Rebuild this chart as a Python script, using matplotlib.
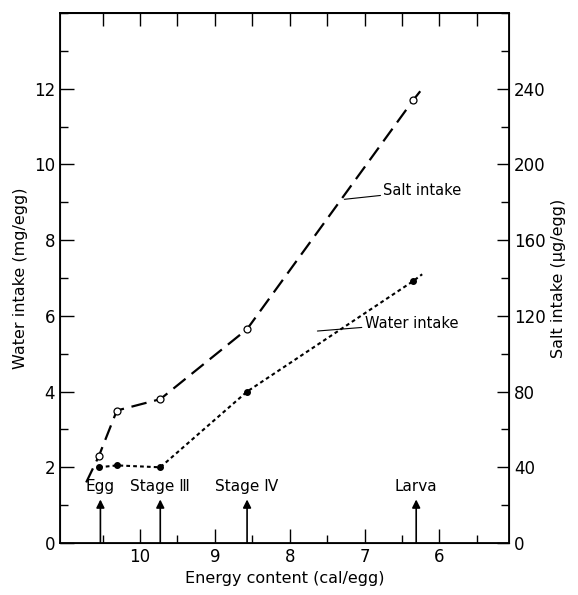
import numpy as np
import matplotlib.pyplot as plt
from matplotlib.ticker import MultipleLocator, FixedLocator

# data
energy = [10.55, 10.31, 9.73, 8.57, 6.35]
water = [2.0, 2.05, 2.0, 4.0, 6.92]          # mg/egg
salt = [46, 70, 76, 113, 234]                # ug/egg
# lines extended beyond the measured points
salt_line_x = [10.72, 10.55, 10.31, 9.73, 8.57, 6.35, 6.25]
salt_line_y = [32, 46, 70, 76, 113, 234, 239]
water_line_x = [10.55, 10.31, 9.73, 8.57, 6.35, 6.23]
water_line_y = [2.0, 2.05, 2.0, 4.0, 6.92, 7.1]

stages = ['Egg', 'Stage Ⅲ', 'Stage Ⅳ', 'Larva']
stage_x = [10.53, 9.73, 8.57, 6.31]

fig = plt.figure(figsize=(5.78, 5.95), dpi=100)
ax = fig.add_axes([0.1038, 0.0874, 0.7768, 0.8906])
ax2 = ax.twinx()

ax.set_xlim(11.07, 5.07)
ax.set_ylim(0, 14)
ax2.set_ylim(0, 280)

ax2.plot(salt_line_x, salt_line_y, color='black', lw=1.6, dashes=(7, 3.5))
ax2.plot(energy, salt, 'o', mfc='white', mec='black', ms=5, mew=0.9)
ax.plot(water_line_x, water_line_y, color='black', lw=1.5, dashes=(1.8, 1.5))
ax.plot(energy, water, 'o', color='black', ms=4)

# stage arrows
for name, x in zip(stages, stage_x):
    ax.annotate('', xy=(x, 1.15), xytext=(x, 0),
                arrowprops=dict(arrowstyle='-|>', color='black', lw=1.2,
                                mutation_scale=12, shrinkA=0, shrinkB=0))
    ax.text(x, 1.3, name, ha='center', va='bottom', fontsize=11)

# curve labels with leader lines
ax.annotate('Salt intake', xy=(7.27, 9.08), xytext=(6.75, 9.3),
            fontsize=10.5, va='center', ha='left',
            arrowprops=dict(arrowstyle='-', color='black', lw=0.8,
                            shrinkA=0, shrinkB=0))
ax.annotate('Water intake', xy=(7.63, 5.6), xytext=(7.0, 5.8),
            fontsize=10.5, va='center', ha='left',
            arrowprops=dict(arrowstyle='-', color='black', lw=0.8,
                            shrinkA=0, shrinkB=0))

ax.set_xticks([10, 9, 8, 7, 6])
ax.xaxis.set_minor_locator(FixedLocator([10.5, 9.5, 8.5, 7.5, 6.5, 5.5]))
ax.set_yticks(np.arange(0, 13, 2))
ax.yaxis.set_minor_locator(MultipleLocator(1))
ax2.set_yticks(np.arange(0, 241, 40))
ax2.yaxis.set_minor_locator(MultipleLocator(20))

ax.tick_params(axis='both', which='major', direction='in', length=10,
               width=1, labelsize=12)
ax.tick_params(axis='both', which='minor', direction='in', length=6, width=1)
ax2.tick_params(axis='y', which='major', direction='in', length=9,
                width=1, labelsize=12)
ax2.tick_params(axis='y', which='minor', direction='in', length=6, width=1)

# top axis: evenly long ticks every half unit, no labels
top = ax.secondary_xaxis('top')
top.set_xticks(np.arange(10.5, 5.4, -0.5))
top.tick_params(direction='in', length=9, width=1, labeltop=False)

for s in ax.spines.values():
    s.set_linewidth(1.3)
top.spines['top'].set_linewidth(1.3)

ax.set_xlabel('Energy content (cal/egg)', fontsize=11.5)
ax.set_ylabel('Water intake (mg/egg)', fontsize=11.5)
ax2.set_ylabel('Salt intake (μg/egg)', fontsize=11.5)

fig.savefig('out.png', dpi=100)
